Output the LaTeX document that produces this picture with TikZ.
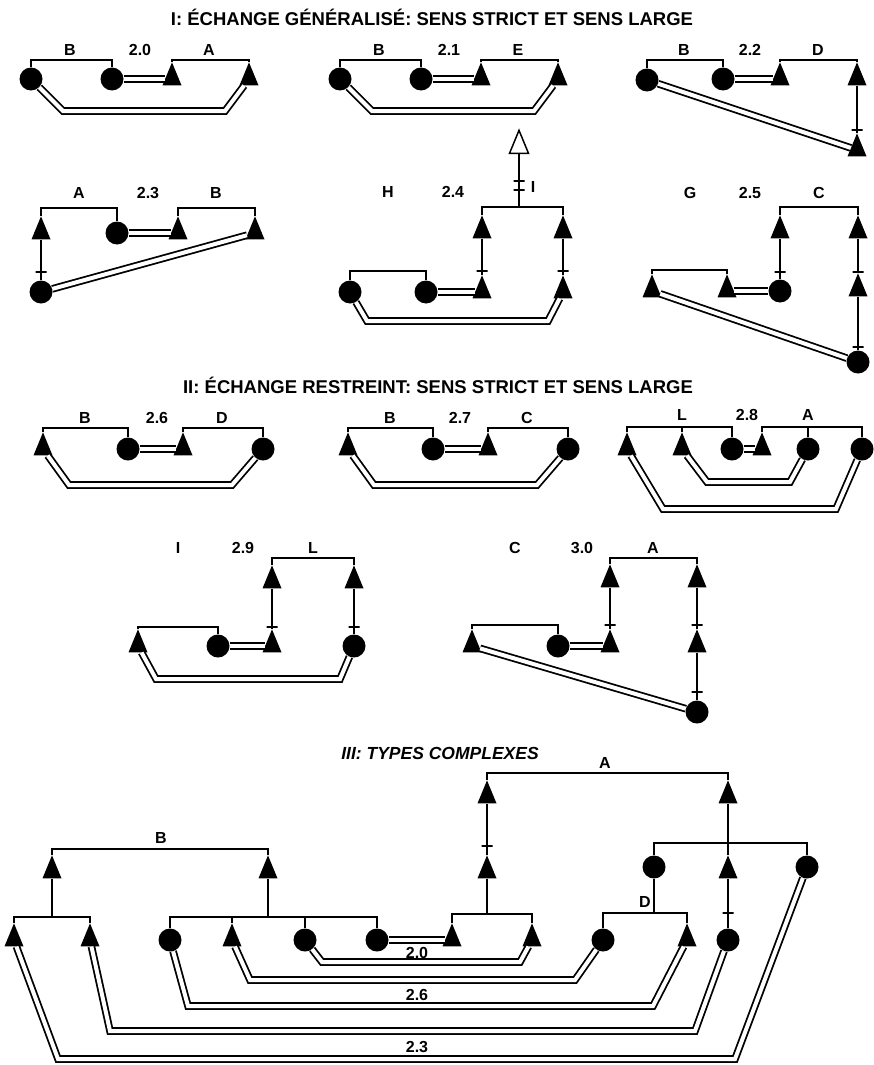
\documentclass[tikz,border=0pt]{standalone}
\usepackage{fontspec}
\setmainfont{Liberation Sans}
\usepackage{tikz}
\usetikzlibrary{ shapes.geometric }

\tikzset{
    fem/.style={circle, fill, minimum size=23pt, inner sep=0pt},
    masc/.style={isosceles triangle, isosceles triangle stretches, shape border rotate=90,
        fill, minimum width=19pt, minimum height=23pt, inner sep=0pt},
    openmasc/.style={masc, fill=white, draw, line width=1.5pt},
    kin/.style={line width=1.6pt},
    wed/.style={double, line width=1.8pt, double distance=4pt},
    tickmark/.style={draw, line width=1.5pt, minimum width=11pt, minimum height=0pt, inner sep=0pt},
    lbl/.style={font=\bfseries\fontsize{16}{16}\selectfont, inner sep=0pt},
    ttl/.style={font=\bfseries\fontsize{18.5}{18.5}\selectfont, inner sep=0pt},
}

\begin{document}
\begin{tikzpicture}[x=1pt, y=-1pt]
        \useasboundingbox (0,0) rectangle (873,1065);

        \node[ttl] (t1) at (432,17) {I: ÉCHANGE GÉNÉRALISÉ: SENS STRICT ET SENS LARGE};
        \node[ttl] (t2) at (438,385) {II: ÉCHANGE RESTREINT: SENS STRICT ET SENS LARGE};
        \node[ttl, font=\bfseries\itshape\fontsize{17.5}{17.5}\selectfont] (t3) at (440,753) {III: TYPES COMPLEXES};

        % 2.0
        \node[fem] (a1) at (31,79) {};
        \node[fem] (a2) at (112,79) {};
        \node[masc] (a3) at (172,79) {};
        \node[masc] (a4) at (249,79) {};
        \node[lbl] (aB) at (70,50) {B};
        \node[lbl] (aN) at (140,50) {2.0};
        \node[lbl] (aA) at (209,50) {A};
        \draw[kin] (a1.north) |- (a2.north |- 0,60) -- (a2.north);
        \draw[kin] (a3.north) |- (a4.north |- 0,60) -- (a4.north);
        \draw[wed] (a2) -- (a3);
        \draw[wed] (a1) -- (63,111) -- (225,111) -- (a4);

        % 2.1
        \node[fem] (b1) at (340,79) {};
        \node[fem] (b2) at (421,79) {};
        \node[masc] (b3) at (481,79) {};
        \node[masc] (b4) at (558,79) {};
        \node[lbl] (bB) at (379,50) {B};
        \node[lbl] (bN) at (449,50) {2.1};
        \node[lbl] (bE) at (518,50) {E};
        \draw[kin] (b1.north) |- (b2.north |- 0,60) -- (b2.north);
        \draw[kin] (b3.north) |- (b4.north |- 0,60) -- (b4.north);
        \draw[wed] (b2) -- (b3);
        \draw[wed] (b1) -- (372,111) -- (534,111) -- (b4);

        % 2.2
        \node[fem] (c1) at (647,80) {};
        \node[fem] (c2) at (723,79) {};
        \node[masc] (c3) at (780,79) {};
        \node[masc] (c4) at (857,79) {};
        \node[masc] (c5) at (857,150) {};
        \node[tickmark] (ck) at (857,130) {};
        \node[lbl] (cB) at (684,50) {B};
        \node[lbl] (cN) at (750,50) {2.2};
        \node[lbl] (cD) at (818,50) {D};
        \draw[kin] (c1.north) |- (c2.north |- 0,60) -- (c2.north);
        \draw[kin] (c3.north) |- (c4.north |- 0,60) -- (c4.north);
        \draw[kin] (c4) -- (c5);
        \draw[wed] (c2) -- (c3);
        \draw[wed] (c1) -- (c5);

        % 2.3
        \node[masc] (d1) at (41,233) {};
        \node[fem] (d2) at (117,233) {};
        \node[masc] (d3) at (178,233) {};
        \node[masc] (d4) at (255,233) {};
        \node[fem] (d5) at (41,292) {};
        \node[tickmark] (dk) at (41,272) {};
        \node[lbl] (dA) at (79,193) {A};
        \node[lbl] (dN) at (148,193) {2.3};
        \node[lbl] (dB) at (216,193) {B};
        \draw[kin] (d1.north) |- (d2.north |- 0,208) -- (d2.north);
        \draw[kin] (d3.north) |- (d4.north |- 0,208) -- (d4.north);
        \draw[kin] (d1) -- (d5);
        \draw[wed] (d2) -- (d3);
        \draw[wed] (d5) -- (d4);

        % 2.4
        \node[openmasc] (e0) at (519,147) {};
        \node[masc] (e1) at (482,232) {};
        \node[masc] (e2) at (563,232) {};
        \node[masc] (e3) at (482,292) {};
        \node[masc] (e4) at (563,292) {};
        \node[fem] (e5) at (350,292) {};
        \node[fem] (e6) at (426,292) {};
        \node[tickmark] (ek1) at (519,181) {};
        \node[tickmark] (ek2) at (519,190) {};
        \node[tickmark] (ek3) at (482,271) {};
        \node[tickmark] (ek4) at (563,271) {};
        \node[lbl] (eH) at (388,192) {H};
        \node[lbl] (eN) at (453,192) {2.4};
        \node[lbl] (eI) at (533,187) {I};
        \draw[kin] (e1.north) |- (e2.north |- 0,207) -- (e2.north);
        \draw[kin] (e0) -- (e0 |- 0,207);
        \draw[kin] (e5.north) |- (e6.north |- 0,271) -- (e6.north);
        \draw[kin] (e1) -- (e3);
        \draw[kin] (e2) -- (e4);
        \draw[wed] (e6) -- (e3);
        \draw[wed] (e5) -- (367,321) -- (548,321) -- (e4);

        % 2.5
        \node[masc] (g1) at (780,232) {};
        \node[masc] (g2) at (858,232) {};
        \node[fem] (g3) at (780,291) {};
        \node[masc] (g4) at (858,290) {};
        \node[fem] (g5) at (858,362) {};
        \node[masc] (g6) at (652,291) {};
        \node[masc] (g7) at (727,291) {};
        \node[tickmark] (gk1) at (780,272) {};
        \node[tickmark] (gk2) at (858,272) {};
        \node[tickmark] (gk3) at (858,347) {};
        \node[lbl] (gG) at (690,193) {G};
        \node[lbl] (gN) at (750,193) {2.5};
        \node[lbl] (gC) at (819,193) {C};
        \draw[kin] (g1.north) |- (g2.north |- 0,207) -- (g2.north);
        \draw[kin] (g6.north) |- (g7.north |- 0,270) -- (g7.north);
        \draw[kin] (g1) -- (g3);
        \draw[kin] (g2) -- (g4);
        \draw[kin] (g4) -- (g5);
        \draw[wed] (g7) -- (g3);
        \draw[wed] (g6) -- (g5);

        % 2.6
        \node[masc] (h1) at (43,449) {};
        \node[fem] (h2) at (128,449) {};
        \node[masc] (h3) at (183,449) {};
        \node[fem] (h4) at (263,449) {};
        \node[lbl] (hB) at (85,418) {B};
        \node[lbl] (hN) at (157,418) {2.6};
        \node[lbl] (hD) at (222,418) {D};
        \draw[kin] (h1.north) |- (h2.north |- 0,428) -- (h2.north);
        \draw[kin] (h3.north) |- (h4.north |- 0,428) -- (h4.north);
        \draw[wed] (h2) -- (h3);
        \draw[wed] (h1) -- (69,485) -- (232,485) -- (h4);

        % 2.7
        \node[masc] (i1) at (348,449) {};
        \node[fem] (i2) at (433,449) {};
        \node[masc] (i3) at (488,449) {};
        \node[fem] (i4) at (568,449) {};
        \node[lbl] (iB) at (390,418) {B};
        \node[lbl] (iN) at (460,418) {2.7};
        \node[lbl] (iC) at (527,418) {C};
        \draw[kin] (i1.north) |- (i2.north |- 0,428) -- (i2.north);
        \draw[kin] (i3.north) |- (i4.north |- 0,428) -- (i4.north);
        \draw[wed] (i2) -- (i3);
        \draw[wed] (i1) -- (374,485) -- (537,485) -- (i4);

        % 2.8
        \node[masc] (j1) at (627,449) {};
        \node[masc] (j2) at (682,449) {};
        \node[fem] (j3) at (732,449) {};
        \node[masc] (j4) at (762,449) {};
        \node[fem] (j5) at (808,449) {};
        \node[fem] (j6) at (862,449) {};
        \node[lbl] (jL) at (682,415) {L};
        \node[lbl] (jN) at (747,415) {2.8};
        \node[lbl] (jA) at (808,415) {A};
        \draw[kin] (j1.north) |- (j3.north |- 0,427) -- (j3.north);
        \draw[kin] (j2.north) -- (j2.north |- 0,427);
        \draw[kin] (j4.north) |- (j6.north |- 0,427) -- (j6.north);
        \draw[kin] (j5.north) -- (j5.north |- 0,427);
        \draw[wed] (j3) -- (j4);
        \draw[wed] (j2) -- (707,482) -- (790,482) -- (j5);
        \draw[wed] (j1) -- (663,509) -- (836,509) -- (j6);

        % 2.9
        \node[masc] (n1) at (272,582) {};
        \node[masc] (n2) at (354,582) {};
        \node[masc] (n3) at (272,646) {};
        \node[fem] (n4) at (354,646) {};
        \node[masc] (n5) at (138,646) {};
        \node[fem] (n6) at (218,646) {};
        \node[tickmark] (nk1) at (272,627) {};
        \node[tickmark] (nk2) at (354,627) {};
        \node[lbl] (nI) at (178,548) {I};
        \node[lbl] (nN) at (243,548) {2.9};
        \node[lbl] (nL) at (313,548) {L};
        \draw[kin] (n1.north) |- (n2.north |- 0,558) -- (n2.north);
        \draw[kin] (n5.north) |- (n6.north |- 0,627) -- (n6.north);
        \draw[kin] (n1) -- (n3);
        \draw[kin] (n2) -- (n4);
        \draw[wed] (n6) -- (n3);
        \draw[wed] (n5) -- (156,679) -- (340,679) -- (n4);

        % 3.0
        \node[masc] (p1) at (610,581) {};
        \node[masc] (p2) at (697,581) {};
        \node[masc] (p3) at (610,646) {};
        \node[masc] (p4) at (697,646) {};
        \node[fem] (p5) at (697,712) {};
        \node[masc] (p6) at (472,646) {};
        \node[fem] (p7) at (558,646) {};
        \node[tickmark] (pk1) at (610,625) {};
        \node[tickmark] (pk2) at (697,625) {};
        \node[tickmark] (pk3) at (697,692) {};
        \node[lbl] (pC) at (515,548) {C};
        \node[lbl] (pN) at (582,548) {3.0};
        \node[lbl] (pA) at (653,548) {A};
        \draw[kin] (p1.north) |- (p2.north |- 0,558) -- (p2.north);
        \draw[kin] (p6.north) |- (p7.north |- 0,625) -- (p7.north);
        \draw[kin] (p1) -- (p3);
        \draw[kin] (p2) -- (p4);
        \draw[kin] (p4) -- (p5);
        \draw[wed] (p7) -- (p3);
        \draw[wed] (p6) -- (p5);

        % III
        \node[masc] (s1) at (487,797) {};
        \node[masc] (s2) at (487,872) {};
        \node[masc] (s3) at (728,797) {};
        \node[masc] (s4) at (728,872) {};
        \node[fem] (s5) at (728,940) {};
        \node[fem] (s6) at (654,867) {};
        \node[fem] (s7) at (807,867) {};
        \node[fem] (s8) at (603,940) {};
        \node[masc] (s9) at (687,940) {};
        \node[masc] (s10) at (452,940) {};
        \node[masc] (s11) at (532,940) {};
        \node[masc] (s12) at (52,872) {};
        \node[masc] (s13) at (268,872) {};
        \node[masc] (s14) at (14,940) {};
        \node[masc] (s15) at (90,940) {};
        \node[fem] (s16) at (170,940) {};
        \node[masc] (s17) at (232,940) {};
        \node[fem] (s18) at (305,940) {};
        \node[fem] (s19) at (377,940) {};
        \node[tickmark] (sk1) at (487,846) {};
        \node[tickmark] (sk2) at (728,913) {};
        \node[lbl] (sA) at (605,763) {A};
        \node[lbl] (sB) at (161,838) {B};
        \node[lbl] (sD) at (645,902) {D};
        \node[lbl] (s20) at (417,953) {2.0};
        \node[lbl] (s26) at (417,995) {2.6};
        \node[lbl] (s23) at (417,1047) {2.3};
        \draw[kin] (s1.north) |- (s3.north |- 0,773) -- (s3.north);
        \draw[kin] (s1) -- (s2);
        \draw[kin] (s2.south) -- (s2.south |- 0,914);
        \draw[kin] (s10.north) |- (s11.north |- 0,914) -- (s11.north);
        \draw[kin] (s3) -- (s4);
        \draw[kin] (s4) -- (s5);
        \draw[kin] (s6.north) |- (s7.north |- 0,843) -- (s7.north);
        \draw[kin] (s6.south) -- (s6.south |- 0,913);
        \draw[kin] (s8.north) |- (s9.north |- 0,913) -- (s9.north);
        \draw[kin] (s12.north) |- (s13.north |- 0,849) -- (s13.north);
        \draw[kin] (s12.south) -- (s12.south |- 0,917);
        \draw[kin] (s14.north) |- (s15.north |- 0,917) -- (s15.north);
        \draw[kin] (s13.south) -- (s13.south |- 0,917);
        \draw[kin] (s16.north) |- (s19.north |- 0,917) -- (s19.north);
        \draw[kin] (s17.north) -- (s17.north |- 0,917);
        \draw[kin] (s18.north) -- (s18.north |- 0,917);
        \draw[wed] (s19) -- (s10);
        \draw[wed] (s18) -- (322,962) -- (520,962) -- (s11);
        \draw[wed] (s17) -- (250,980) -- (575,980) -- (s8);
        \draw[wed] (s16) -- (188,1006) -- (653,1006) -- (s9);
        \draw[wed] (s15) -- (110,1031) -- (695,1031) -- (s5);
        \draw[wed] (s14) -- (58,1059) -- (735,1059) -- (s7);
\end{tikzpicture}
\end{document}
